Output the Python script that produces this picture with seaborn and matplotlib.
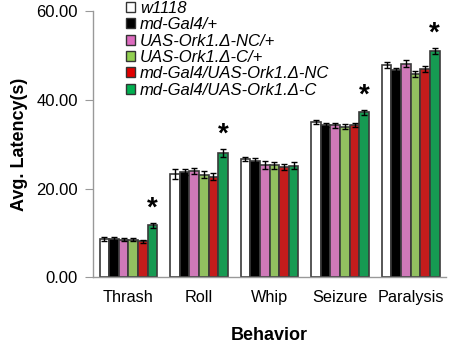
import matplotlib
matplotlib.use("Agg")
import matplotlib.pyplot as plt
import seaborn as sns
import pandas as pd
import numpy as np
from matplotlib.patches import Patch

behaviors = ["Thrash", "Roll", "Whip", "Seizure", "Paralysis"]
genotypes = ["w1118", "md-Gal4/+", "UAS-Ork1.Δ-NC/+", "UAS-Ork1.Δ-C/+",
             "md-Gal4/UAS-Ork1.Δ-NC", "md-Gal4/UAS-Ork1.Δ-C"]
colors = ["#FFFFFF", "#000000", "#DD6BBF", "#92D050", "#E00000", "#00B050"]

w1118   = [8.7, 23.3, 26.6, 34.9, 47.7]
mdgal4  = [8.6, 23.8, 26.2, 34.3, 46.6]
uas_nc  = [8.5, 24.0, 25.3, 34.2, 48.1]
uas_c   = [8.5, 23.1, 25.2, 33.9, 45.7]
md_nc   = [8.1, 22.7, 24.9, 34.3, 46.9]
md_c    = [11.7, 28.1, 25.1, 37.1, 51.0]

err_w1118  = [0.4, 1.2, 0.5, 0.5, 0.7]
err_mdgal4 = [0.4, 0.7, 0.7, 0.4, 0.4]
err_uas_nc = [0.4, 0.7, 0.9, 0.5, 0.8]
err_uas_c  = [0.3, 0.8, 0.7, 0.5, 0.7]
err_md_nc  = [0.3, 0.7, 0.7, 0.5, 0.6]
err_md_c   = [0.6, 0.9, 0.8, 0.6, 0.7]

significant = ["Thrash", "Roll", "Seizure", "Paralysis"]

series = [w1118, mdgal4, uas_nc, uas_c, md_nc, md_c]
errs = [err_w1118, err_mdgal4, err_uas_nc, err_uas_c, err_md_nc, err_md_c]

rows = []
for g, vals, es in zip(genotypes, series, errs):
    for b, v, e in zip(behaviors, vals, es):
        rows.append({"Behavior": b, "Genotype": g, "Latency": v, "Err": e})
df = pd.DataFrame(rows)

sns.set_style("white")
plt.rcParams["font.family"] = ["Liberation Sans", "DejaVu Sans"]
plt.rcParams["text.color"] = "black"
plt.rcParams["xtick.color"] = "black"
plt.rcParams["ytick.color"] = "black"
plt.rcParams["axes.labelcolor"] = "black"

fig = plt.figure(figsize=(4.5, 3.43), dpi=100)
ax = fig.add_axes([0.207, 0.191, 0.784, 0.778])

sns.barplot(data=df, x="Behavior", y="Latency", hue="Genotype",
            order=behaviors, hue_order=genotypes, palette=colors,
            errorbar=None, width=0.82, edgecolor="#3a3a3a", linewidth=1.2,
            ax=ax, legend=False)

patches = [p for p in ax.patches if p.get_height() > 0]
idx = 0
for gi, g in enumerate(genotypes):
    for bi, b in enumerate(behaviors):
        p = patches[idx]
        idx += 1
        xc = p.get_x() + p.get_width() / 2
        h = p.get_height()
        e = errs[gi][bi]
        ax.errorbar(xc, h, yerr=e, color="black", capsize=2.5, elinewidth=1,
                    capthick=1, zorder=5)
        if gi == len(genotypes) - 1 and b in significant:
            ax.text(xc, h + e + 0.2, "*", ha="center", va="bottom",
                    fontsize=20, fontweight="bold", color="black")

ax.set_ylim(0, 60)
ax.set_xlim(-0.5, 4.5)
ax.set_yticks([0, 20, 40, 60])
ax.set_yticklabels([f"{v:.2f}" for v in [0, 20, 40, 60]], fontsize=12)
ax.set_xticks(range(len(behaviors)))
ax.set_xticklabels(behaviors, fontsize=11.7)
ax.set_xticks(np.arange(-0.5, 5.0, 1.0), minor=True)
ax.tick_params(axis="x", which="major", length=0, pad=9)
ax.tick_params(axis="x", which="minor", length=4, color="#999999", direction="out")
ax.tick_params(axis="y", length=6, color="#999999", direction="out", left=True, pad=5)
for s in ["top", "right"]:
    ax.spines[s].set_visible(False)
for s in ["left", "bottom"]:
    ax.spines[s].set_color("#999999")
    ax.spines[s].set_linewidth(1)

ax.set_xlabel("")
fig.text(0.207 + 0.784 / 2, 3 / 343, "Behavior", ha="center", va="baseline",
         fontsize=13, fontweight="bold")
ax.set_ylabel("Avg. Latency(s)", fontsize=13, fontweight="bold", labelpad=6)

handles = [Patch(facecolor=c, edgecolor="#333333", linewidth=1) for c in colors]
leg = fig.legend(handles, genotypes, loc="upper left",
                 bbox_to_anchor=(126 / 450, 1 - 1 / 343),
                 frameon=False, handlelength=0.55, handleheight=0.55,
                 handletextpad=0.3, labelspacing=0.08, borderpad=0,
                 borderaxespad=0,
                 prop={"style": "italic", "size": 12,
                       "family": ["Liberation Sans", "DejaVu Sans"]})

fig.savefig("out.png", dpi=100)
